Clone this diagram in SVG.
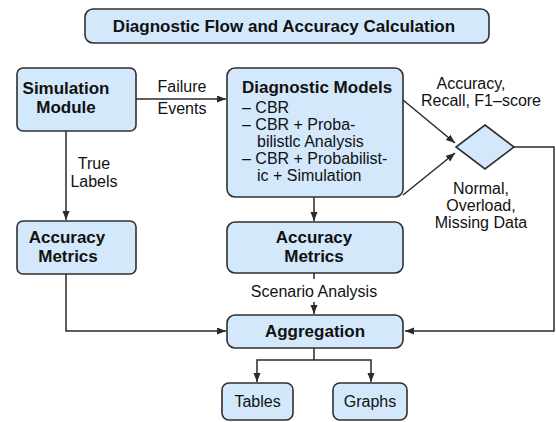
<svg xmlns="http://www.w3.org/2000/svg" width="556" height="422" viewBox="0 0 556 422">
  <style>
    .box { fill: #d3e8fb; stroke: #2f2f2f; stroke-width: 1.6; }
    .line { fill: none; stroke: #2a2a2a; stroke-width: 1.5; }
    .arrow { marker-end: url(#head); }
    text { font-family: "Liberation Sans", Arial, Helvetica, sans-serif; fill: #111; }
    .b { font-weight: bold; font-size: 17px; }
    .r { font-size: 16px; }
    .c { text-anchor: middle; }
  </style>
  <defs>
    <marker id="head" markerUnits="userSpaceOnUse" markerWidth="10" markerHeight="8" refX="9" refY="3.5" orient="auto">
      <path d="M0,0 L9,3.5 L0,7 z" fill="#2a2a2a"/>
    </marker>
  </defs>
  <rect width="556" height="422" fill="#ffffff"/>

  <!-- title banner -->
  <g id="title">
    <rect class="box" x="85" y="9" width="404" height="34" rx="8"/>
    <text class="b c" x="284" y="32">Diagnostic Flow and Accuracy Calculation</text>
  </g>

  <!-- connectors -->
  <g id="connectors">
    <line class="line arrow" x1="136" y1="99" x2="226" y2="99"/>
    <line class="line arrow" x1="66" y1="131" x2="66" y2="220"/>
    <line class="line arrow" x1="403" y1="100" x2="455" y2="143"/>
    <line class="line arrow" x1="403" y1="195" x2="455" y2="153"/>
    <line class="line arrow" x1="314" y1="197" x2="314" y2="221"/>
    <line class="line" x1="314" y1="273" x2="314" y2="279"/>
    <line class="line arrow" x1="314" y1="302" x2="314" y2="314"/>
    <polyline class="line arrow" points="66,274 66,331 226,331"/>
    <polyline class="line arrow" points="514,147 554,147 554,331 405,331"/>
    <line class="line" x1="314" y1="348" x2="314" y2="360"/>
    <polyline class="line arrow" points="314,360 257,360 257,382"/>
    <polyline class="line arrow" points="314,360 371,360 371,382"/>
    <!-- edge labels -->
    <text class="r c" x="182" y="92">Failure</text>
    <text class="r c" x="182" y="114">Events</text>
    <text class="r c" x="94" y="169">True</text>
    <text class="r c" x="94" y="187">Labels</text>
    <text class="r c" x="471" y="89">Accuracy,</text>
    <text class="r c" x="481" y="106">Recall, F1–score</text>
    <text class="r c" x="481" y="194">Normal,</text>
    <text class="r c" x="481" y="211">Overload,</text>
    <text class="r c" x="481" y="228">Missing Data</text>
    <text class="r c" x="314" y="297">Scenario Analysis</text>
  </g>

  <g id="simulation-module">
    <rect class="box" x="17" y="68" width="119" height="63" rx="6"/>
    <text class="b c" x="66" y="94">Simulation</text>
    <text class="b c" x="66" y="113">Module</text>
  </g>

  <g id="diagnostic-models">
    <rect class="box" x="227" y="68" width="176" height="129" rx="8"/>
    <text class="b" x="242" y="93">Diagnostic Models</text>
    <text class="r" x="242" y="113">– CBR</text>
    <text class="r" x="242" y="130">– CBR + Proba-</text>
    <text class="r" x="257" y="147">bilistlc Analysis</text>
    <text class="r" x="242" y="164">– CBR + Probabilist-</text>
    <text class="r" x="257" y="181">ic + Simulation</text>
  </g>

  <g id="decision">
    <polygon class="box" points="485,125 514,147 485,169 456,147"/>
  </g>

  <g id="accuracy-metrics-left">
    <rect class="box" x="17" y="221" width="119" height="53" rx="6"/>
    <text class="b c" x="67" y="243">Accuracy</text>
    <text class="b c" x="68" y="262">Metrics</text>
  </g>

  <g id="accuracy-metrics-mid">
    <rect class="box" x="227" y="222" width="176" height="51" rx="8"/>
    <text class="b c" x="314" y="243">Accuracy</text>
    <text class="b c" x="314" y="262">Metrics</text>
  </g>

  <g id="aggregation">
    <rect class="box" x="227" y="315" width="176" height="33" rx="8"/>
    <text class="b c" x="315" y="337">Aggregation</text>
  </g>

  <g id="tables">
    <rect class="box" x="222" y="383" width="71" height="37" rx="7"/>
    <text class="r c" x="257.5" y="407">Tables</text>
  </g>

  <g id="graphs">
    <rect class="box" x="333" y="383" width="74" height="37" rx="7"/>
    <text class="r c" x="370" y="407">Graphs</text>
  </g>
</svg>
